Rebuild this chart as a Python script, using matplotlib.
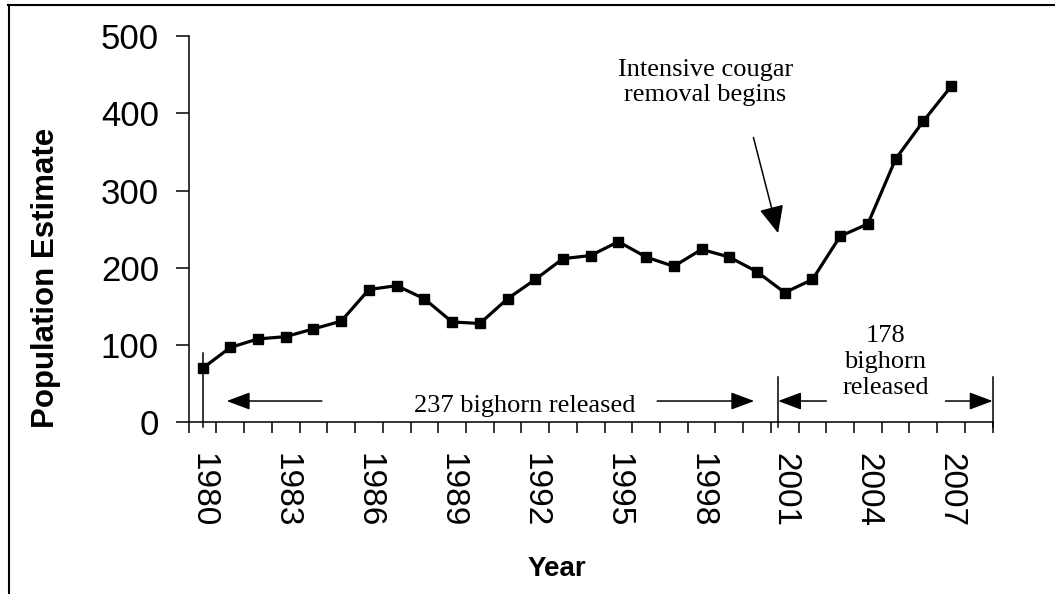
import numpy as np
import matplotlib

matplotlib.use("Agg")
import matplotlib.pyplot as plt
from matplotlib.lines import Line2D
from matplotlib.ticker import FixedLocator, NullFormatter

# bighorn population estimates, 1980-2007 (2008 is an empty category)
years = list(range(1980, 2009))
population = [70, 97, 108, 111, 121, 131, 172, 177, 160, 130, 128, 160, 185, 212,
              216, 234, 214, 202, 224, 214, 195, 168, 185, 241, 257, 341, 390, 435]
tick_years = list(range(1980, 2008, 3))

SANS = "Liberation Sans"
SERIF = "Liberation Serif"

fig = plt.figure(figsize=(10.55, 5.94), dpi=100, facecolor="white")
ax = fig.add_axes([0.1789, 0.289, 0.762, 0.650])

idx = np.arange(len(population))
ax.plot(idx, population, "-", color="black", lw=2.3, marker="s", ms=7.5,
        mfc="black", mec="black", zorder=3)

ax.set_xlim(-0.5, len(years) - 0.5)
ax.set_ylim(0, 500)

# y axis
ax.set_yticks([0, 100, 200, 300, 400, 500])
ax.tick_params(axis="y", direction="out", length=9.5, width=1.1, pad=12,
               labelsize=25)
for lab in ax.get_yticklabels():
    lab.set_fontfamily(SANS)

# x axis: category ticks between years, labels every 3 years
ax.set_xticks([years.index(y) for y in tick_years])
ax.set_xticklabels([str(y) for y in tick_years], rotation=-90, fontsize=24,
                   fontfamily=SANS, va="top", ha="center")
ax.xaxis.set_minor_locator(FixedLocator(np.arange(-0.5, len(years), 1.0)))
ax.xaxis.set_minor_formatter(NullFormatter())
ax.tick_params(axis="x", which="major", length=0, pad=22)
ax.tick_params(axis="x", which="minor", direction="out", length=8, width=1.1)

for s in ("top", "right"):
    ax.spines[s].set_visible(False)
for s in ("left", "bottom"):
    ax.spines[s].set_linewidth(1.1)

ax.set_ylabel("Population Estimate", fontsize=22.5, fontweight="bold",
              fontfamily=SANS)
ax.yaxis.set_label_coords(-0.159, 0.375)
ax.set_xlabel("Year", fontsize=20, fontweight="bold", fontfamily=SANS)
ax.xaxis.set_label_coords(0.458, -0.347)

# release brackets
ax.plot([0, 0], [90, -6], color="black", lw=1.1, clip_on=False)
ax.plot([20.74, 20.74], [59, -6], color="black", lw=1.1, clip_on=False)
ax.plot([28.5, 28.5], [59, -6], color="black", lw=1.1, clip_on=False)

arrow = dict(arrowstyle="-|>,head_length=0.8,head_width=0.3",
             mutation_scale=18, color="black", lw=1.1, shrinkA=0, shrinkB=0)
for tail, head in [(4.3, 0.87), (16.4, 19.9), (22.5, 20.76), (26.8, 28.5)]:
    ax.annotate("", xy=(head, 27.6), xytext=(tail, 27.6),
                arrowprops=arrow, annotation_clip=False)

ax.text(11.61, 13.7, "237 bighorn released", fontsize=19, fontfamily=SERIF,
        ha="center", va="baseline")
ax.text(24.63, 78, "178\nbighorn\nreleased", fontsize=19, fontfamily=SERIF,
        ha="center", va="center", linespacing=1.25)

ax.annotate("Intensive cougar\nremoval begins", xy=(20.76, 245), xytext=(18.14, 440),
            fontsize=19, fontfamily=SERIF, ha="center", va="center",
            linespacing=1.2, annotation_clip=False)
ax.annotate("", xy=(20.76, 245), xytext=(19.87, 369),
            arrowprops=dict(arrowstyle="-|>,head_length=1.0,head_width=0.45",
                            mutation_scale=17, color="black", lw=1.1,
                            shrinkA=0, shrinkB=0))

# partial outer frame (top and left edges)
fig.add_artist(Line2D([8 / 1055, 1.0], [1 - 5 / 594, 1 - 5 / 594],
                      transform=fig.transFigure, color="black", lw=1.5))
fig.add_artist(Line2D([9 / 1055, 9 / 1055], [0.0, 1 - 5 / 594],
                      transform=fig.transFigure, color="black", lw=1.5))

fig.savefig("out.png", dpi=100, facecolor="white")
